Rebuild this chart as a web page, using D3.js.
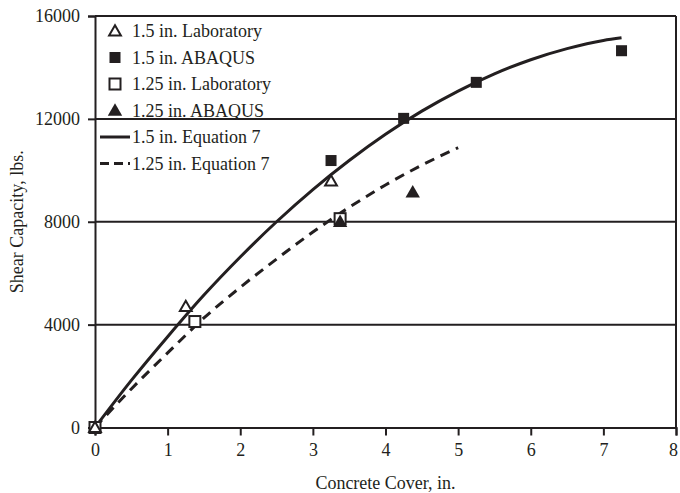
<!DOCTYPE html>
<html>
<head>
<meta charset="utf-8">
<script src="https://cdn.jsdelivr.net/npm/d3@7"></script>
<style>
  body { margin: 0; background: #fff; }
  svg text { font-family: "Liberation Serif", "Times New Roman", serif; fill: #231f20; }
</style>
</head>
<body>
<svg id="chart" width="680" height="493"></svg>
<script>
// series
const lab15 = [[0, 0], [1.25, 4700], [3.25, 9580]];
const abaqus15 = [[0, 0], [3.25, 10380], [4.25, 12020], [5.25, 13420], [7.25, 14650]];
const lab125 = [[0, 0], [1.375, 4120], [3.375, 8120]];
const abaqus125 = [[3.375, 8000], [4.375, 9140]];

const eq15x = [0, 0.5, 1, 1.5, 2, 2.5, 3, 3.5, 4, 4.5, 5, 5.5, 6, 6.5, 7, 7.25];
const eq15y = [0, 1830, 3530, 5150, 6630, 8000, 9250, 10380, 11400, 12300, 13080, 13750, 14300, 14730, 15050, 15150];
const eq125x = [0, 0.5, 1, 1.5, 2, 2.5, 3, 3.5, 4, 4.5, 5];
const eq125y = [0, 1500, 2900, 4260, 5450, 6550, 7600, 8560, 9430, 10200, 10880];

const xTicks = [0, 1, 2, 3, 4, 5, 6, 7, 8];
const yTicks = [0, 4000, 8000, 12000, 16000];

const ink = '#231f20';
const svg = d3.select('#chart');
const margin = { top: 16, right: 4, bottom: 65.5, left: 95 },
    width = 680 - margin.left - margin.right,
    height = 493 - margin.top - margin.bottom;

const x = d3.scaleLinear().domain([0, 8]).range([margin.left, margin.left + width]);
const y = d3.scaleLinear().domain([0, 16000]).range([margin.top + height, margin.top]);

// gridlines + frame
svg.append('g')
    .selectAll('line')
    .data(yTicks.filter(d => d > 0))
    .enter().append('line')
    .attr('x1', x(0)).attr('x2', x(8))
    .attr('y1', d => y(d)).attr('y2', d => y(d))
    .attr('stroke', ink).attr('stroke-width', 2);

svg.append('line')
    .attr('x1', x(8)).attr('x2', x(8))
    .attr('y1', y(0)).attr('y2', y(16000))
    .attr('stroke', ink).attr('stroke-width', 2);

const xAxis = svg.append('g')
    .attr('transform', `translate(0,${y(0)})`)
    .call(d3.axisBottom(x).tickValues(xTicks).tickSize(8).tickPadding(8).tickFormat(d3.format('d')));

const yAxis = svg.append('g')
    .attr('transform', `translate(${x(0)},0)`)
    .call(d3.axisLeft(y).tickValues(yTicks).tickSize(7).tickPadding(8).tickFormat(d3.format('d')));

[xAxis, yAxis].forEach(g => {
    g.select('.domain').attr('stroke', ink).attr('stroke-width', 2);
    g.selectAll('.tick line').attr('stroke', ink).attr('stroke-width', 2);
    g.selectAll('.tick text').attr('font-size', 18)
        .style('font-family', '"Liberation Serif", serif').attr('fill', ink);
});
// last label sits at the window edge; nudge it in so it is not clipped
xAxis.selectAll('.tick text').filter(d => d === 8).attr('dx', -3);

svg.append('text')
    .attr('x', (x(0) + x(8)) / 2).attr('y', 489)
    .attr('text-anchor', 'middle').attr('font-size', 18)
    .text('Concrete Cover, in.');

svg.append('text')
    .attr('transform', `translate(23,${y(8000)}) rotate(-90)`)
    .attr('text-anchor', 'middle').attr('font-size', 18)
    .text('Shear Capacity, lbs.');

// equation curves
const line = d3.line().x(d => x(d[0])).y(d => y(d[1])).curve(d3.curveMonotoneX);

svg.append('path')
    .datum(eq15x.map((v, i) => [v, eq15y[i]]))
    .attr('fill', 'none').attr('stroke', ink).attr('stroke-width', 3)
    .attr('d', line);

svg.append('path')
    .datum(eq125x.map((v, i) => [v, eq125y[i]]))
    .attr('fill', 'none').attr('stroke', ink).attr('stroke-width', 3)
    .attr('stroke-dasharray', '10,7')
    .attr('d', line);

// markers
const triUp = d3.symbol().type(d3.symbolTriangle);
const drawTri = (g, cx, cy, filled, size) => g.append('path')
    .attr('d', triUp.size(size)())
    .attr('transform', `translate(${cx},${cy + 1})`)
    .attr('fill', filled ? ink : '#fff')
    .attr('stroke', ink).attr('stroke-width', filled ? 0 : 2);
const drawSq = (g, cx, cy, filled) => g.append('rect')
    .attr('x', cx - 5.5).attr('y', cy - 5.5)
    .attr('width', 11).attr('height', 11)
    .attr('fill', filled ? ink : '#fff')
    .attr('stroke', ink).attr('stroke-width', filled ? 0 : 2);

const marks = svg.append('g');
abaqus15.forEach(d => drawSq(marks, x(d[0]), y(d[1]), true));
lab125.forEach(d => drawSq(marks, x(d[0]), y(d[1]), false));
abaqus125.forEach(d => drawTri(marks, x(d[0]), y(d[1]), true, 90));
lab15.forEach(d => drawTri(marks, x(d[0]), y(d[1]), false, 60));

// legend
const legendRows = [
    { label: '1.5 in. Laboratory', kind: 'triOpen' },
    { label: '1.5 in. ABAQUS', kind: 'sqFill' },
    { label: '1.25 in. Laboratory', kind: 'sqOpen' },
    { label: '1.25 in. ABAQUS', kind: 'triFill' },
    { label: '1.5 in. Equation 7', kind: 'solid' },
    { label: '1.25 in. Equation 7', kind: 'dash' }
];
const legend = svg.append('g');
legendRows.forEach((r, i) => {
    const cy = 31 + i * 26.5;
    if (r.kind === 'triOpen') drawTri(legend, 115, cy, false, 60);
    if (r.kind === 'triFill') drawTri(legend, 115, cy, true, 90);
    if (r.kind === 'sqFill') drawSq(legend, 115, cy, true);
    if (r.kind === 'sqOpen') drawSq(legend, 115, cy, false);
    if (r.kind === 'solid' || r.kind === 'dash') {
        legend.append('line')
            .attr('x1', 100).attr('x2', 130).attr('y1', cy).attr('y2', cy)
            .attr('stroke', ink).attr('stroke-width', 3)
            .attr('stroke-dasharray', r.kind === 'dash' ? '9,5' : null);
    }
    legend.append('text')
        .attr('x', 132).attr('y', cy + 6)
        .attr('font-size', 18)
        .text(r.label);
});
</script>
</body>
</html>
